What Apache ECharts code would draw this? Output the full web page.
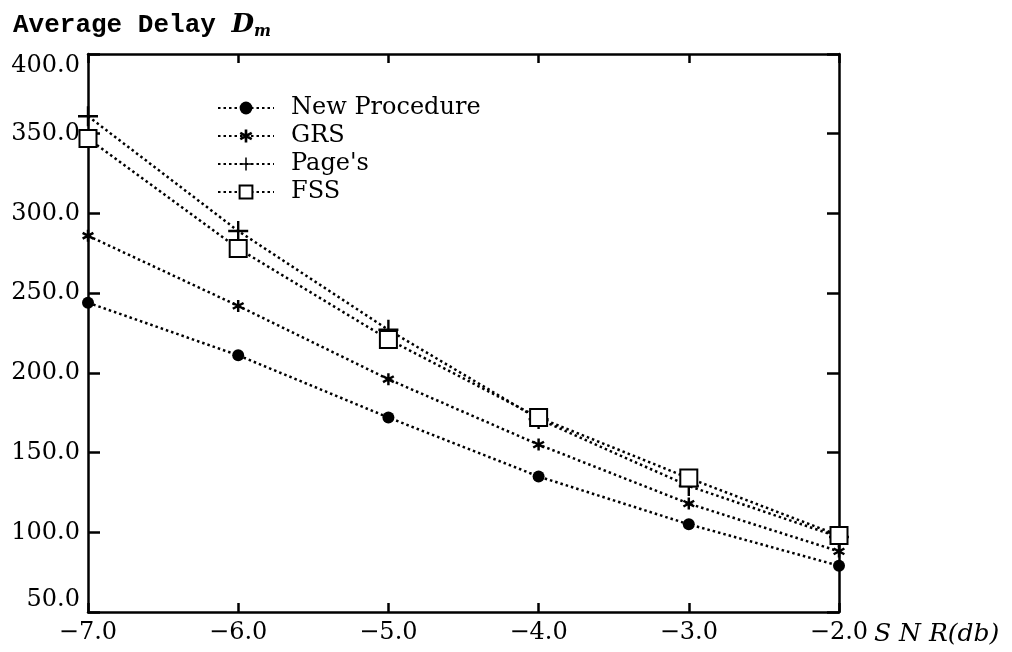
<!DOCTYPE html>
<html>
<head>
<meta charset="utf-8">
<script src="https://cdn.jsdelivr.net/npm/echarts@6/dist/echarts.min.js"></script>
<style>
  html, body { margin: 0; padding: 0; background: #ffffff; }
  #chart { width: 1012px; height: 652px; }
</style>
</head>
<body>
<div id="chart"></div>
<script>
// Signal-to-noise ratio (dB) on the horizontal axis
const snr = [-7, -6, -5, -4, -3, -2];

// Average detection delay for each procedure
const newProcedure = [244, 211, 172, 135, 105, 79];
const grs = [286, 242, 196, 155, 118, 88];
const pages = [361, 289, 227, 171, 129, 97];
const fss = [347, 278, 221, 172, 134, 98];

const seriesNames = ['New Procedure', 'GRS', "Page's", 'FSS'];

// Marker shapes: a six-armed asterisk and a thin plus sign
const asteriskPath = 'path://M40,0 L60,0 L60,100 L40,100 Z ' +
  'M1.3,34.5 L11.3,17.2 L98.7,65.5 L88.7,82.8 Z ' +
  'M88.7,17.2 L98.7,34.5 L11.3,82.8 L1.3,65.5 Z';
const plusPath = 'path://M0,44 L100,44 L100,56 L0,56 Z M44,0 L56,0 L56,100 L44,100 Z';

const ink = '#000000';
const serif = 'DejaVu Serif';

function pairs(ys) {
  return snr.map((x, i) => [x, ys[i]]);
}
function fmt(v) {
  return v.toFixed(1).replace('-', '\u2212');
}

const dotted = { color: ink, width: 2.5, type: [2.5, 3] };

function lineSeries(name, ys, symbol, size, extra) {
  return Object.assign({
    name: name,
    type: 'line',
    data: pairs(ys),
    symbol: symbol,
    symbolSize: size,
    showAllSymbol: true,
    lineStyle: dotted,
    itemStyle: { color: ink },
    emphasis: { disabled: true },
    animation: false
  }, extra || {});
}

const axisLine = { show: true, lineStyle: { color: ink, width: 2.5 } };

const chart = echarts.init(document.getElementById('chart'), null, { renderer: 'canvas' });
chart.setOption({
  backgroundColor: '#ffffff',
  animation: false,
  title: {
    left: 8,
    top: 5,
    text: '{a|Average Delay }{d|D}{m|m}',
    textStyle: {
      rich: {
        a: { fontFamily: 'Liberation Mono', fontWeight: 'bold', fontSize: 26, color: ink },
        d: { fontFamily: serif, fontStyle: 'italic', fontSize: 26, color: ink },
        m: { fontFamily: serif, fontStyle: 'italic', fontSize: 16, color: ink, padding: [14, 0, 0, 0] }
      }
    }
  },
  legend: {
    orient: 'vertical',
    left: 212,
    top: 91,
    itemWidth: 56,
    itemHeight: 16,
    itemGap: 4,
    data: seriesNames,
    textStyle: { fontFamily: serif, fontSize: 24, lineHeight: 20, color: ink, padding: [0, 0, 0, 12] },
    selectedMode: false
  },
  grid: { left: 88, right: 173, top: 54, bottom: 40, containLabel: false },
  xAxis: [
    {
      type: 'value',
      min: -7, max: -2, interval: 1,
      position: 'bottom',
      axisLine: axisLine,
      axisTick: { show: true, inside: true, length: 9, lineStyle: { color: ink, width: 2.5 } },
      axisLabel: {
        color: ink, fontFamily: serif, fontSize: 24, margin: 9,
        formatter: fmt
      },
      splitLine: { show: false },
      name: 'S N R(db)',
      nameLocation: 'end',
      nameGap: 30,
      nameTextStyle: {
        fontFamily: serif, fontStyle: 'italic', fontSize: 25, color: ink,
        align: 'left', verticalAlign: 'top', padding: [10, 0, 0, 0]
      }
    },
    {
      type: 'value',
      min: -7, max: -2, interval: 1,
      position: 'top',
      axisLine: axisLine,
      axisTick: { show: true, inside: true, length: 9, lineStyle: { color: ink, width: 2.5 } },
      axisLabel: { show: false },
      splitLine: { show: false }
    }
  ],
  yAxis: [
    {
      type: 'value',
      min: 50, max: 400, interval: 50,
      position: 'left',
      axisLine: axisLine,
      axisTick: { show: true, inside: true, length: 12, lineStyle: { color: ink, width: 2.5 } },
      axisLabel: {
        color: ink, fontFamily: serif, fontSize: 24, margin: 8,
        formatter: fmt,
        verticalAlignMinLabel: 'bottom',
        verticalAlignMaxLabel: 'top'
      },
      splitLine: { show: false }
    },
    {
      type: 'value',
      min: 50, max: 400, interval: 50,
      position: 'right',
      axisLine: axisLine,
      axisTick: { show: true, inside: true, length: 12, lineStyle: { color: ink, width: 2.5 } },
      axisLabel: { show: false },
      splitLine: { show: false }
    }
  ],
  series: [
    lineSeries(seriesNames[0], newProcedure, 'circle', 12),
    lineSeries(seriesNames[1], grs, asteriskPath, 12),
    lineSeries(seriesNames[2], pages, plusPath, 20),
    lineSeries(seriesNames[3], fss, 'emptyRect', 17, {
      itemStyle: { color: ink, borderColor: ink, borderWidth: 2.5 }
    })
  ]
});
</script>
</body>
</html>
